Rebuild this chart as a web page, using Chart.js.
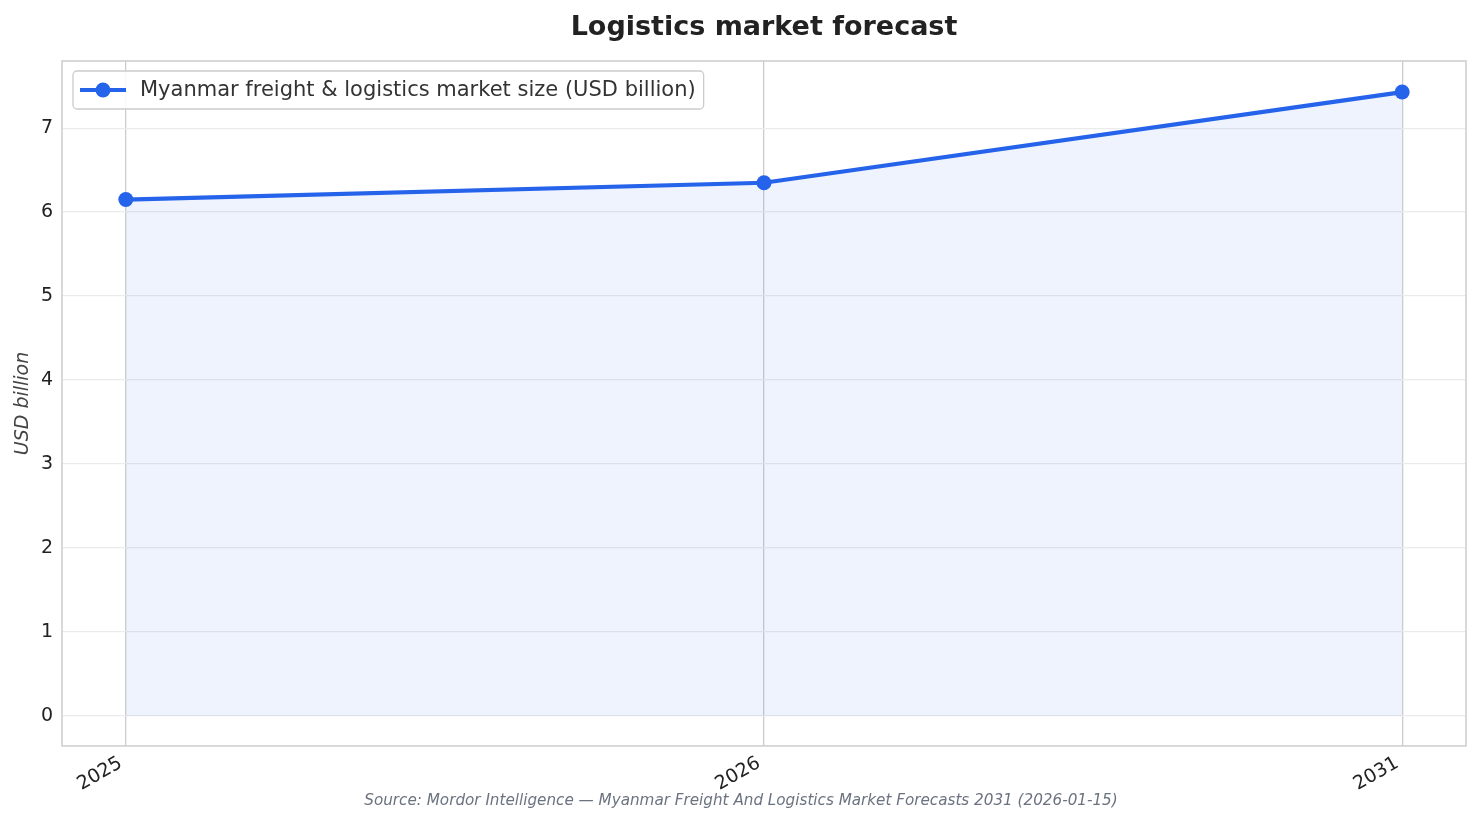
<!DOCTYPE html>
<html>
<head>
<meta charset="utf-8">
<title>Logistics market forecast</title>
<script src="https://cdn.jsdelivr.net/npm/chart.js@4.4.1/dist/chart.umd.min.js"></script>
<style>
  html, body { margin: 0; padding: 0; background: #fff; }
  #wrap { width: 1482px; height: 824px; }
</style>
</head>
<body>
<div id="wrap"><canvas id="forecastChart" width="1482" height="824"></canvas></div>
<script>
// values
var years = ['2025', '2026', '2031'];
var marketSize = [6.15, 6.35, 7.43];
var yTicks = [0, 1, 2, 3, 4, 5, 6, 7];

var seriesLabel = 'Myanmar freight & logistics market size (USD billion)';
var sourceText = 'Source: Mordor Intelligence \u2014 Myanmar Freight And Logistics Market Forecasts 2031 (2026-01-15)';

var FONT = '"DejaVu Sans", "Noto Sans", sans-serif';
var BLUE = '#2563eb';

// frame round the plot area + legend box in the upper left corner
var framePlugin = {
    id: 'frame',
    afterLayout: function (chart) {
        // source line is centred on the whole page, not on the plot
        chart.boxes.forEach(function (b) {
            if (b.options && b.options.text === sourceText) {
                b.left = 0;
                b.right = chart.width;
                b.width = chart.width;
            }
        });
    },
    afterDraw: function (chart) {
        var ctx = chart.ctx;
        var a = chart.chartArea;
        ctx.save();
        ctx.strokeStyle = '#cccccc';
        ctx.lineWidth = 1.5;
        ctx.strokeRect(a.left, a.top, a.right - a.left, a.bottom - a.top);

        var ds = chart.data.datasets[0];
        ctx.font = '21px ' + FONT;
        var tw = ctx.measureText(ds.label).width;
        var bx = a.left + 11, by = a.top + 10, bh = 38;
        var bw = tw + 75;
        ctx.beginPath();
        ctx.roundRect(bx, by, bw, bh, 4);
        ctx.fillStyle = 'rgba(255,255,255,0.85)';
        ctx.fill();
        ctx.strokeStyle = '#cccccc';
        ctx.lineWidth = 1.3;
        ctx.stroke();

        var cy = by + bh / 2;
        ctx.beginPath();
        ctx.moveTo(bx + 7, cy);
        ctx.lineTo(bx + 53, cy);
        ctx.strokeStyle = ds.borderColor;
        ctx.lineWidth = 4;
        ctx.stroke();
        ctx.beginPath();
        ctx.arc(bx + 30, cy, 7.5, 0, Math.PI * 2);
        ctx.fillStyle = ds.borderColor;
        ctx.fill();

        ctx.fillStyle = '#333333';
        ctx.textBaseline = 'middle';
        ctx.textAlign = 'left';
        ctx.fillText(ds.label, bx + 67, cy + 1);
        ctx.restore();
    }
};

var ctx = document.getElementById('forecastChart').getContext('2d');
var forecast_chart = new Chart(ctx, {
    type: 'line',
    data: {
        datasets: [{
            label: seriesLabel,
            data: marketSize.map(function (v, i) { return { x: i, y: v }; }),
            borderColor: BLUE,
            backgroundColor: 'rgba(37,99,235,0.08)',
            borderWidth: 4.2,
            fill: 'origin',
            tension: 0,
            pointRadius: 7.5,
            pointHoverRadius: 7.5,
            pointBackgroundColor: BLUE,
            pointBorderWidth: 0
        }]
    },
    options: {
        responsive: false,
        animation: false,
        events: [],
        layout: { padding: { left: 0, right: 16, top: 0, bottom: 0 } },
        scales: {
            x: {
                type: 'linear',
                min: -0.1,
                max: 2.1,
                afterBuildTicks: function (scale) {
                    scale.ticks = years.map(function (_, i) { return { value: i }; });
                },
                afterFit: function (scale) { scale.height = 45.8; },
                ticks: {
                    callback: function (v) { return years[v]; },
                    minRotation: 30,
                    maxRotation: 30,
                    padding: 6,
                    labelOffset: -5,
                    color: '#222222',
                    font: { family: FONT, size: 19 }
                },
                grid: { color: '#cccccc', lineWidth: 1.3, drawTicks: false },
                border: { display: false }
            },
            y: {
                min: -0.357,
                max: 7.8,
                afterBuildTicks: function (scale) {
                    scale.ticks = yTicks.map(function (v) { return { value: v }; });
                },
                afterFit: function (scale) { scale.width = 62; },
                ticks: {
                    padding: 9,
                    color: '#222222',
                    font: { family: FONT, size: 19 }
                },
                grid: { color: '#ebebeb', lineWidth: 1.3, drawTicks: false },
                border: { display: false },
                title: {
                    display: true,
                    text: 'USD billion',
                    color: '#444444',
                    padding: { top: 12, bottom: 0 },
                    font: { family: FONT, size: 19, style: 'italic' }
                }
            }
        },
        plugins: {
            legend: { display: false },
            tooltip: { enabled: false },
            title: {
                display: true,
                fullSize: false,
                text: 'Logistics market forecast',
                color: '#222222',
                padding: { top: 12, bottom: 16.6 },
                font: { family: FONT, size: 27, weight: 'bold' }
            },
            subtitle: {
                display: true,
                position: 'bottom',
                text: sourceText,
                color: '#6b7280',
                padding: { top: 0, bottom: 14 },
                font: { family: FONT, size: 15.2, style: 'italic' }
            }
        }
    },
    plugins: [framePlugin]
});
</script>
</body>
</html>
